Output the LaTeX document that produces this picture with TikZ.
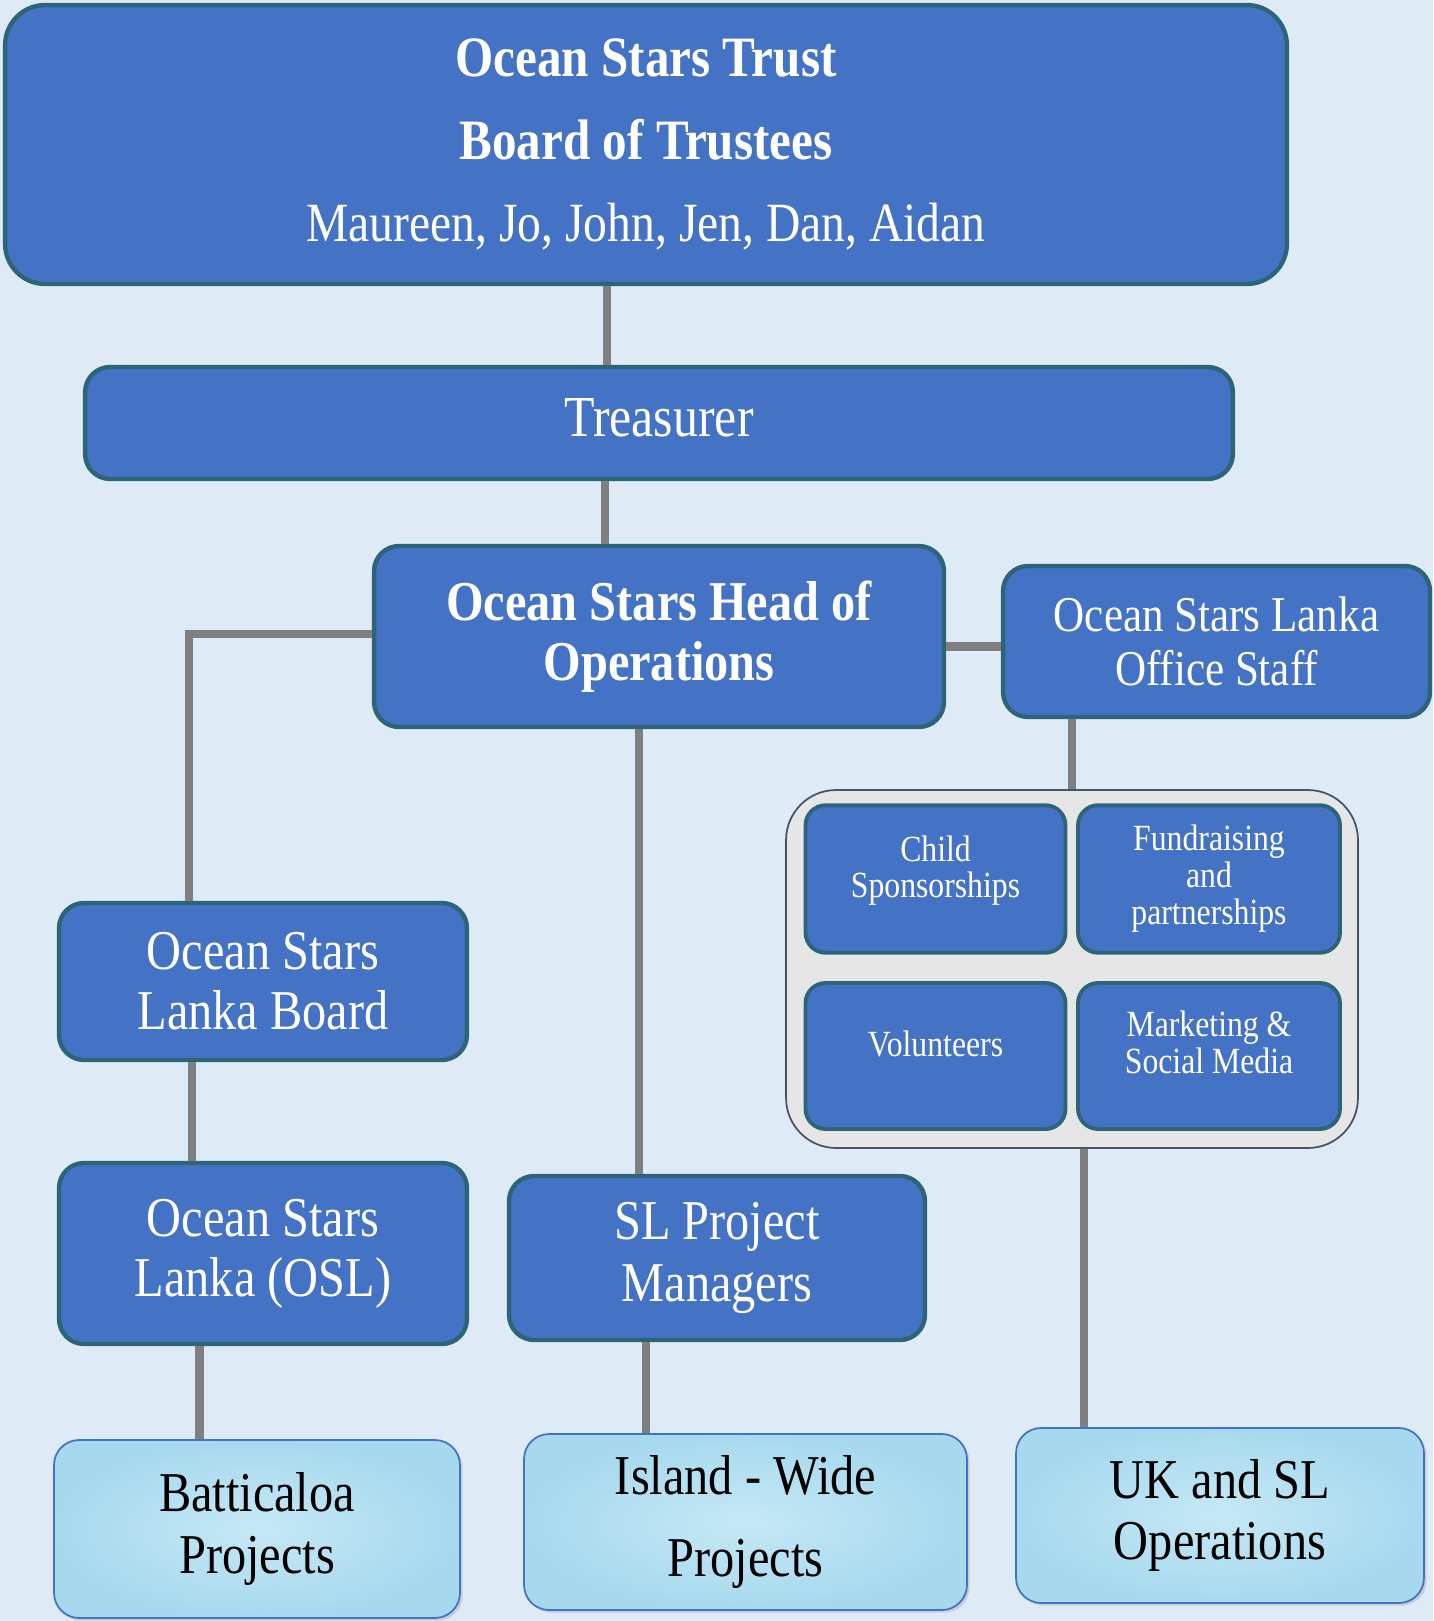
\documentclass[tikz,border=0pt]{standalone}
\usepackage{xcolor}
\usepackage{fontspec}
\setmainfont{Liberation Serif}[FakeStretch=0.86]
\usepackage{tikz}
\usetikzlibrary{positioning, calc, shadows}

\definecolor{pagebg}{HTML}{DEEAF6}
\definecolor{boxblue}{HTML}{4472C4}
\definecolor{boxline}{HTML}{2D6478}
\definecolor{linkgrey}{HTML}{7F7F7F}
\definecolor{groupfill}{HTML}{E7E6E6}
\definecolor{groupline}{HTML}{44546A}
\definecolor{projin}{HTML}{C6E8F5}
\definecolor{projout}{HTML}{A6D9EE}

\begin{document}
\begin{tikzpicture}[
    x=0.02cm, y=-0.02cm,
    box/.style={
        rectangle, draw=boxline,
        line width=2.5pt,
        fill=boxblue,
        text=white,
        align=center,
        rounded corners=0.5cm
    },
    smallbox/.style={
        box,
        line width=2.2pt,
        rounded corners=0.4cm,
        minimum width=5.2cm,
        minimum height=2.95cm,
        font=\fontsize{21}{21}\selectfont
    },
    projbox/.style={
        rectangle, draw=boxblue,
        line width=1pt,
        inner color=projin, outer color=projout,
        text=black,
        align=center,
        rounded corners=0.5cm,
        drop shadow={opacity=0.25, shadow xshift=1.5pt, shadow yshift=-1.5pt},
        font=\fontsize{32}{35}\selectfont
    },
    link/.style={draw=linkgrey, line width=5pt}
]

% page
\fill [pagebg] (0,0) rectangle (1433,1621);

% Trustees and treasurer
\node [box, rounded corners=0.8cm, minimum width=25.64cm, minimum height=5.58cm,
       font=\fontsize{31.5}{47}\selectfont] (trust) at (646,144.5)
      {\textbf{\fontsize{32.5}{47}\selectfont Ocean Stars Trust}\\
       \textbf{\fontsize{32.5}{47}\selectfont Board of Trustees}\\
       Maureen, Jo, John, Jen, Dan, Aidan};
\node [box, minimum width=22.96cm, minimum height=2.24cm,
       font=\fontsize{33}{36}\selectfont] (treasurer) at (659,423) {Treasurer\\[-30pt]};

% Head of operations and office staff
\node [box, minimum width=11.4cm, minimum height=3.62cm,
       font=\bfseries\fontsize{32}{34}\selectfont] (head) at (659,636.5)
      {Ocean Stars Head of\\Operations};
\node [box, minimum width=8.54cm, minimum height=3.02cm,
       font=\fontsize{28.5}{30.5}\selectfont] (office) at (1216.5,641.5)
      {Ocean Stars Lanka\\Office Staff};

% Office teams
\node [rectangle, draw=groupline, line width=1pt, fill=groupfill, rounded corners=1cm,
       minimum width=11.44cm, minimum height=7.16cm] (teams) at (1072,969) {};
\node [smallbox] (child) at (935.5,879) {Child\\Sponsorships\\[-7pt]};
\node [smallbox, minimum width=5.24cm] (fundraising) at (1209,879) {Fundraising\\and\\partnerships};
\node [smallbox, minimum height=2.92cm] (volunteers) at (935.5,1056) {Volunteers\\[-7pt]};
\node [smallbox, minimum width=5.24cm, minimum height=2.92cm] (marketing) at (1209,1056)
      {Marketing \&\\Social Media\\[-5pt]};

% Lanka side
\node [box, minimum width=8.16cm, minimum height=3.14cm,
       font=\fontsize{32}{34}\selectfont] (board) at (263,981.5) {Ocean Stars\\Lanka Board};
\node [box, minimum width=8.16cm, minimum height=3.62cm,
       font=\fontsize{32}{34}\selectfont] (osl) at (263,1253.5) {Ocean Stars\\Lanka (OSL)};
\node [box, minimum width=8.32cm, minimum height=3.28cm,
       font=\fontsize{32}{35}\selectfont] (managers) at (717,1258) {SL Project\\Managers};

% Projects
\node [projbox, minimum width=8.12cm, minimum height=3.56cm] (batticaloa) at (257,1529)
      {Batticaloa\\Projects};
\node [projbox, minimum width=8.86cm, minimum height=3.52cm,
       font=\fontsize{32}{47}\selectfont] (island) at (745.5,1522) {Island - Wide\\Projects};
\node [projbox, minimum width=8.16cm, minimum height=3.5cm] (ukops) at (1220,1515.5)
      {UK and SL\\Operations};

% Links
\draw [link] ([xshift=-0.78cm]trust.south) -- ([xshift=-0.78cm]trust.south |- treasurer.north);
\draw [link] ([xshift=-1.08cm]treasurer.south) -- ([xshift=-1.08cm]treasurer.south |- head.north);
\draw [link] ([yshift=0.05cm]head.west) -| ([xshift=-1.48cm]board.north);
\draw [link] ([yshift=-0.2cm]head.east) -- ([yshift=-0.2cm]head.east -| office.west);
\draw [link] ([xshift=-0.4cm]head.south) -- ([xshift=-0.4cm]head.south |- managers.north);
\draw [link] (teams.north |- office.south) -- (teams.north);
\draw [link] ([xshift=0.24cm]teams.south) -- ([xshift=0.24cm]teams.south |- ukops.north);
\draw [link] ([xshift=-1.42cm]board.south) -- ([xshift=-1.42cm]board.south |- osl.north);
\draw [link] ([xshift=-1.27cm]osl.south) -- ([xshift=-1.27cm]osl.south |- batticaloa.north);
\draw [link] ([xshift=-1.42cm]managers.south) -- ([xshift=-1.42cm]managers.south |- island.north);

\end{tikzpicture}
\end{document}
